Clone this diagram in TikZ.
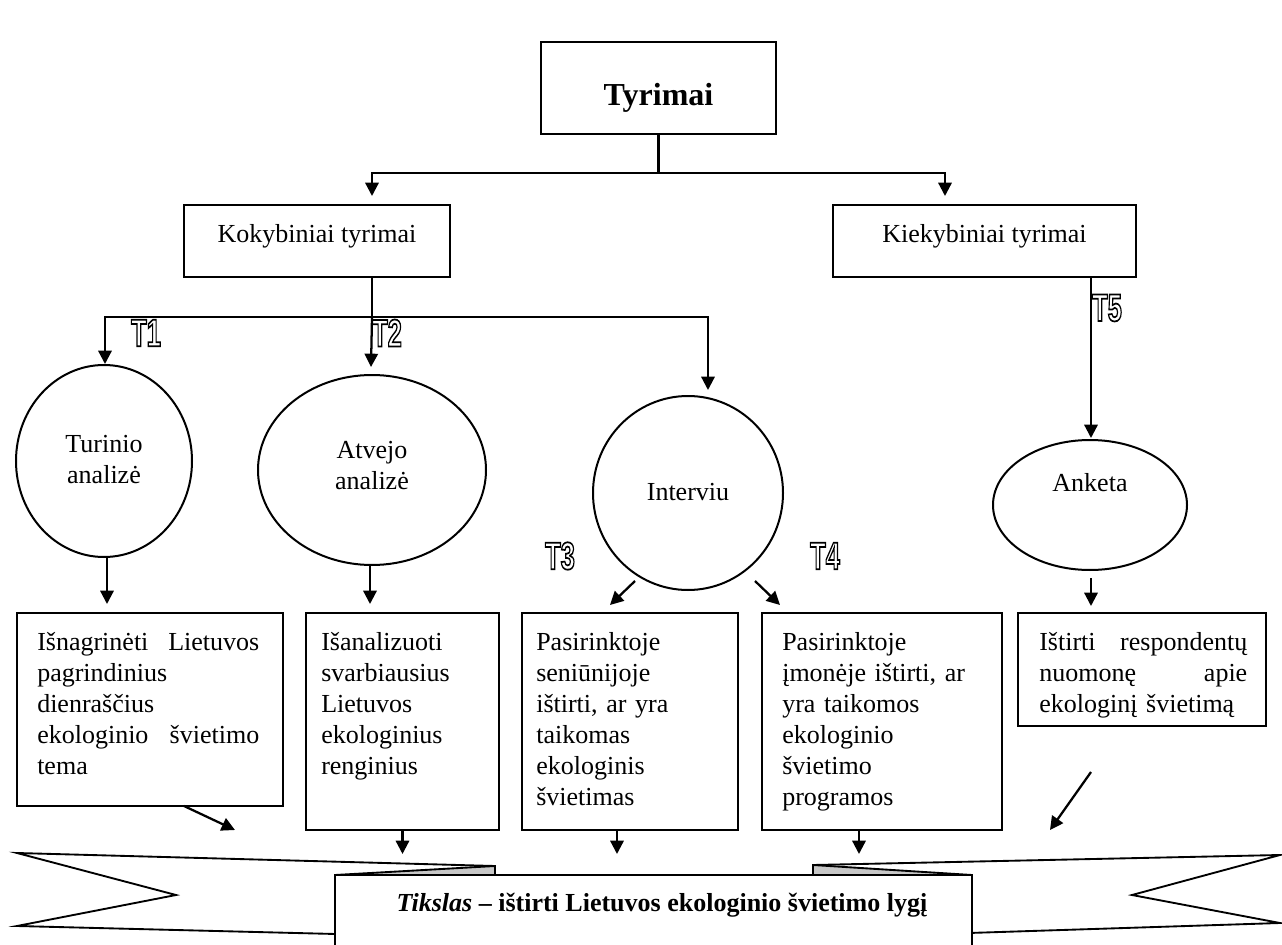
\documentclass[tikz,border=0pt]{standalone}
\usepackage{fontspec}
\setmainfont{Liberation Serif}
\setsansfont{Liberation Sans}
\usepackage{graphicx}
\usetikzlibrary{shapes.geometric,arrows.meta}
\newcommand\outl[1]{\special{pdf:literal direct 1 Tr 1.3 w}#1\special{pdf:literal direct 0 Tr}}
\newcommand\tlabel[1]{{\sffamily\bfseries\fontsize{29}{29}\selectfont\scalebox{0.66}[1]{\outl{#1}}}}
\newcommand\jline[3]{\leavevmode\hbox to #1{#2\hfil #3}}
\begin{document}
\begin{tikzpicture}[x=0.75pt,y=-0.75pt,
  rbox/.style={draw, rectangle, line width=1.5pt, inner sep=0pt, fill=white},
  ell/.style={draw, ellipse, line width=1.5pt, inner sep=0pt},
  ln/.style={line width=1.6pt},
  arr/.style={line width=1.7pt, -{Triangle[length=10pt,width=10pt]}},
  body/.style={font=\fontsize{19.5}{23.25}\selectfont, inner sep=0pt},
  btxt/.style={body, anchor=base west, align=left},
  tlab/.style={inner sep=0pt},
  ribbon/.style={line width=1.4pt, fill=white},
  fold/.style={line width=1.4pt, fill=black!22}]
\useasboundingbox (0,0) rectangle (1282,945);

% top level
\node[rbox, minimum width=176.25pt, minimum height=69pt] (tyr) at (658.5,88) {};
\node[font=\bfseries\fontsize{24}{28}\selectfont, inner sep=0pt] (tyrt) at (658.5,98) {Tyrimai};

\node[rbox, minimum width=199.5pt, minimum height=54pt] (kok) at (317,241) {};
\node[body] (kokt) at (317,236) {Kokybiniai tyrimai};
\node[rbox, minimum width=227.25pt, minimum height=54pt] (kiek) at (984.5,241) {};
\node[body] (kiekt) at (984.5,236) {Kiekybiniai tyrimai};

% ellipses
\node[ell, minimum width=132pt, minimum height=144pt] (tur) at (104,461) {};
\node[body, align=center] (turt) at (104,460) {Turinio\\analizė};
\node[ell, minimum width=171pt, minimum height=142.5pt] (atv) at (372,470) {};
\node[body, align=center] (atvt) at (372,466) {Atvejo\\analizė};
\node[ell, minimum width=142.5pt, minimum height=145.5pt] (int) at (688,493) {};
\node[body] (intt) at (688,492) {Interviu};
\node[ell, minimum width=145.5pt, minimum height=97.5pt] (ank) at (1090,505) {};
\node[body] (ankt) at (1090,483) {Anketa};

% bottom boxes
\node[rbox, minimum width=199.5pt, minimum height=144.75pt] (b1) at (150,709.5) {};
\node[rbox, minimum width=144.75pt, minimum height=162.75pt] (b2) at (402.5,721.5) {};
\node[rbox, minimum width=162pt, minimum height=162.75pt] (b3) at (630,721.5) {};
\node[rbox, minimum width=180pt, minimum height=162.75pt] (b4) at (882,721.5) {};
\node[rbox, minimum width=186pt, minimum height=84.75pt] (b5) at (1142,669.5) {};

\node[btxt, text width=170pt] (b1t) at (37,650) {\jline{166.5pt}{Išnagrinėti}{Lietuvos}\\pagrindinius\\dienraščius\\\jline{166.5pt}{ekologinio}{švietimo}\\tema};
\node[btxt, text width=130pt] (b2t) at (321,650) {Išanalizuoti\\svarbiausius\\Lietuvos\\ekologinius\\renginius};
\node[btxt, text width=150pt] (b3t) at (536,650) {Pasirinktoje\\seniūnijoje\\ištirti, ar yra\\taikomas\\ekologinis\\švietimas};
\node[btxt, text width=165pt] (b4t) at (782,650) {Pasirinktoje\\įmonėje ištirti, ar\\yra taikomos\\ekologinio\\švietimo\\programos};
\node[btxt, text width=160pt] (b5t) at (1039,650) {\jline{156pt}{Ištirti}{respondentų}\\\jline{156pt}{nuomonę}{apie}\\ekologinį švietimą};

% T labels
\node[tlab] (t1) at (146,333) {\tlabel{T1}};
\node[tlab] (t2) at (387,333) {\tlabel{T2}};
\node[tlab] (t3) at (560,556) {\tlabel{T3}};
\node[tlab] (t4) at (825,556) {\tlabel{T4}};
\node[tlab] (t5) at (1107,308) {\tlabel{T5}};

% connectors top
\coordinate (j1) at (658.5,173);
\coordinate (ka) at (372,196);
\coordinate (kb) at (945,196);
\draw[ln] (tyr.south) -- (j1);
\draw[arr] (j1) -| (ka);
\draw[arr] (j1) -| (kb);

\coordinate (j2) at (372,317);
\coordinate (ta) at (105,364);
\coordinate (tb) at (371,367);
\coordinate (tc) at (708,390);
\coordinate (td) at (1091,438);
\draw[ln] (kok.south -| ka) -- (j2);
\draw[arr] (j2) -| (ta);
\draw[arr] (j2) -- (tb);
\draw[arr] (j2) -| (tc);
\draw[arr] (kiek.south -| td) -- (td);

% circles to boxes
\coordinate (ua) at (107,604);
\coordinate (ub) at (370,604);
\draw[arr] (tur.south -| ua) -- (ua);
\draw[arr] (atv.south -| ub) -- (ub);
\coordinate (i3s) at (635,581); \coordinate (i3e) at (610,605);
\coordinate (i4s) at (755,581); \coordinate (i4e) at (780,605);
\draw[arr] (i3s) -- (i3e);
\draw[arr] (i4s) -- (i4e);
\coordinate (k5s) at (1091,578); \coordinate (k5e) at (1091,606);
\draw[arr] (k5s) -- (k5e);

% ribbon
\filldraw[ribbon] (17,853) -- (495,866) -- (495,938) -- (17,926) -- (176,895) -- cycle;
\filldraw[ribbon] (1280,855) -- (813,865) -- (813,938) -- (1280,923) -- (1132,895) -- cycle;
\filldraw[fold] (335,875) -- (495,866) -- (495,875) -- cycle;
\filldraw[fold] (813,865) -- (972,875) -- (813,875) -- cycle;
\filldraw[ribbon] (335,952) -- (335,875) -- (972,875) -- (972,952);
\node[font=\bfseries\fontsize{19.5}{23}\selectfont, inner sep=0pt] (goal) at (662,905) {\textit{Tikslas} – ištirti Lietuvos ekologinio švietimo lygį};

% boxes to ribbon
\coordinate (d1s) at (184,806); \coordinate (d1e) at (235,830);
\coordinate (d2e) at (402.5,854);
\coordinate (d3s) at (617,830); \coordinate (d3e) at (617,854);
\coordinate (d4s) at (859,830); \coordinate (d4e) at (859,854);
\coordinate (d5s) at (1091,772); \coordinate (d5e) at (1050,830);
\draw[arr] (d1s) -- (d1e);
\draw[arr] (b2.south) -- (d2e);
\draw[arr] (d3s) -- (d3e);
\draw[arr] (d4s) -- (d4e);
\draw[arr] (d5s) -- (d5e);
\end{tikzpicture}
\end{document}
